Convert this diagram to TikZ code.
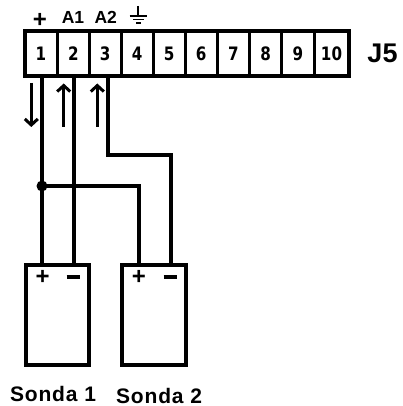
\documentclass[tikz,border=0pt]{standalone}
\usepackage{fontspec}
\setmainfont{Liberation Sans}
\newfontfamily\digitfont{DejaVu Sans}[BoldFont={DejaVu Sans Bold}]
\newfontfamily\labelfont{Liberation Sans Bold}
\newfontfamily\captionfont{Liberation Sans Bold}[LetterSpace=4]
\usetikzlibrary{arrows.meta}
\tikzset{
  x=1pt,y=-1pt,
  frame/.style={draw=black,line width=4pt,inner sep=0pt,outer sep=0pt,fill=white},
  cell/.style={draw=black,line width=3pt,inner sep=0pt,outer sep=0pt,minimum height=44.5pt,font=\digitfont\bfseries\fontsize{18.5}{18.5}\selectfont},
  wire/.style={draw=black,line width=4pt,line cap=butt,line join=miter},
  flow/.style={draw=black,line width=3pt,-{Straight Barb[length=6pt,width=13pt,line width=3pt]}},
  pin/.style={inner sep=0pt,font=\labelfont\fontsize{17.5}{17.5}\selectfont},
  sign/.style={inner sep=0pt,font=\labelfont\fontsize{24}{24}\selectfont},
  caption/.style={inner sep=0pt,font=\captionfont\fontsize{21}{21}\selectfont},
  ground/.style={draw=black,line width=1.5pt},
}
\begin{document}
\begin{tikzpicture}
\useasboundingbox[fill=white] (0,0) rectangle (402,406);
% terminal block
\foreach \n/\l/\r in {1/24.5/57.3,2/57.3/89.3,3/89.3/121,4/121/153.5,5/153.5/185,6/185/217.5,7/217.5/249.5,8/249.5/281.7,9/281.7/314,10/314/349}{
  \pgfmathsetmacro{\w}{\r-\l}
  \pgfmathsetmacro{\c}{(\r+\l)/2}
  \node[cell,minimum width=\w pt] (t\n) at (\c,53.75) {\scalebox{.82}[1]{\n}};
}
\node[frame,fill=none,minimum width=324.5pt,minimum height=44.5pt] (block) at (186.75,53.75) {};
\node[inner sep=0pt,font=\labelfont\fontsize{27}{27}\selectfont] (j5) at (382.5,53) {J5};
% labels over the block
\node[sign] (lp) at (40,20) {+};
\node[pin] (la1) at (73,17.5) {A1};
\node[pin] (la2) at (105.7,17.5) {A2};
\coordinate (g0) at (138,6);
\coordinate (g1) at (138,16);
\draw[ground] (g0) -- (g1);
\draw[ground] (129.5,16) -- (147,16);
\draw[ground] (133,19.7) -- (144,19.7);
\draw[ground] (136,23.2) -- (141,23.2);
% probes
\node[frame,minimum width=62.7pt,minimum height=99.6pt] (s1) at (57.35,314.8) {};
\node[frame,minimum width=63.5pt,minimum height=99.6pt] (s2) at (153.75,314.8) {};
\node[sign] (s1p) at (42.7,277.5) {+};
\node[inner sep=0pt] (s1m) at (73,277) {\rule{13pt}{3.6pt}};
\node[sign] (s2p) at (139,277.5) {+};
\node[inner sep=0pt] (s2m) at (170,277) {\rule{13pt}{3.6pt}};
\node[caption] (c1) at (53,394) {Sonda 1};
\node[caption] (c2) at (159,395.5) {Sonda 2};
% wire end points
\coordinate (w1) at (42,76);
\coordinate (w2) at (74,76);
\coordinate (w3) at (107.5,76);
\coordinate (e1) at (42,265);
\coordinate (e2) at (74,265);
\coordinate (e3) at (138.5,265);
\coordinate (e4) at (170.7,265);
\coordinate (j) at (42,186);
\draw[wire] (w1) -- (e1);
\draw[wire] (w2) -- (e2);
\draw[wire] (w3) |- (170.7,155) -- (e4);
\draw[wire] (j) -| (e3);
\fill[black] (j) circle (5.5pt);
% current arrows
\coordinate (a1s) at (31.3,83);
\coordinate (a1e) at (31.3,127);
\coordinate (a2s) at (63.7,127);
\coordinate (a2e) at (63.7,83.5);
\coordinate (a3s) at (97.3,127);
\coordinate (a3e) at (97.3,83.5);
\draw[flow] (a1s) -- (a1e);
\draw[flow] (a2s) -- (a2e);
\draw[flow] (a3s) -- (a3e);
\end{tikzpicture}
\end{document}
